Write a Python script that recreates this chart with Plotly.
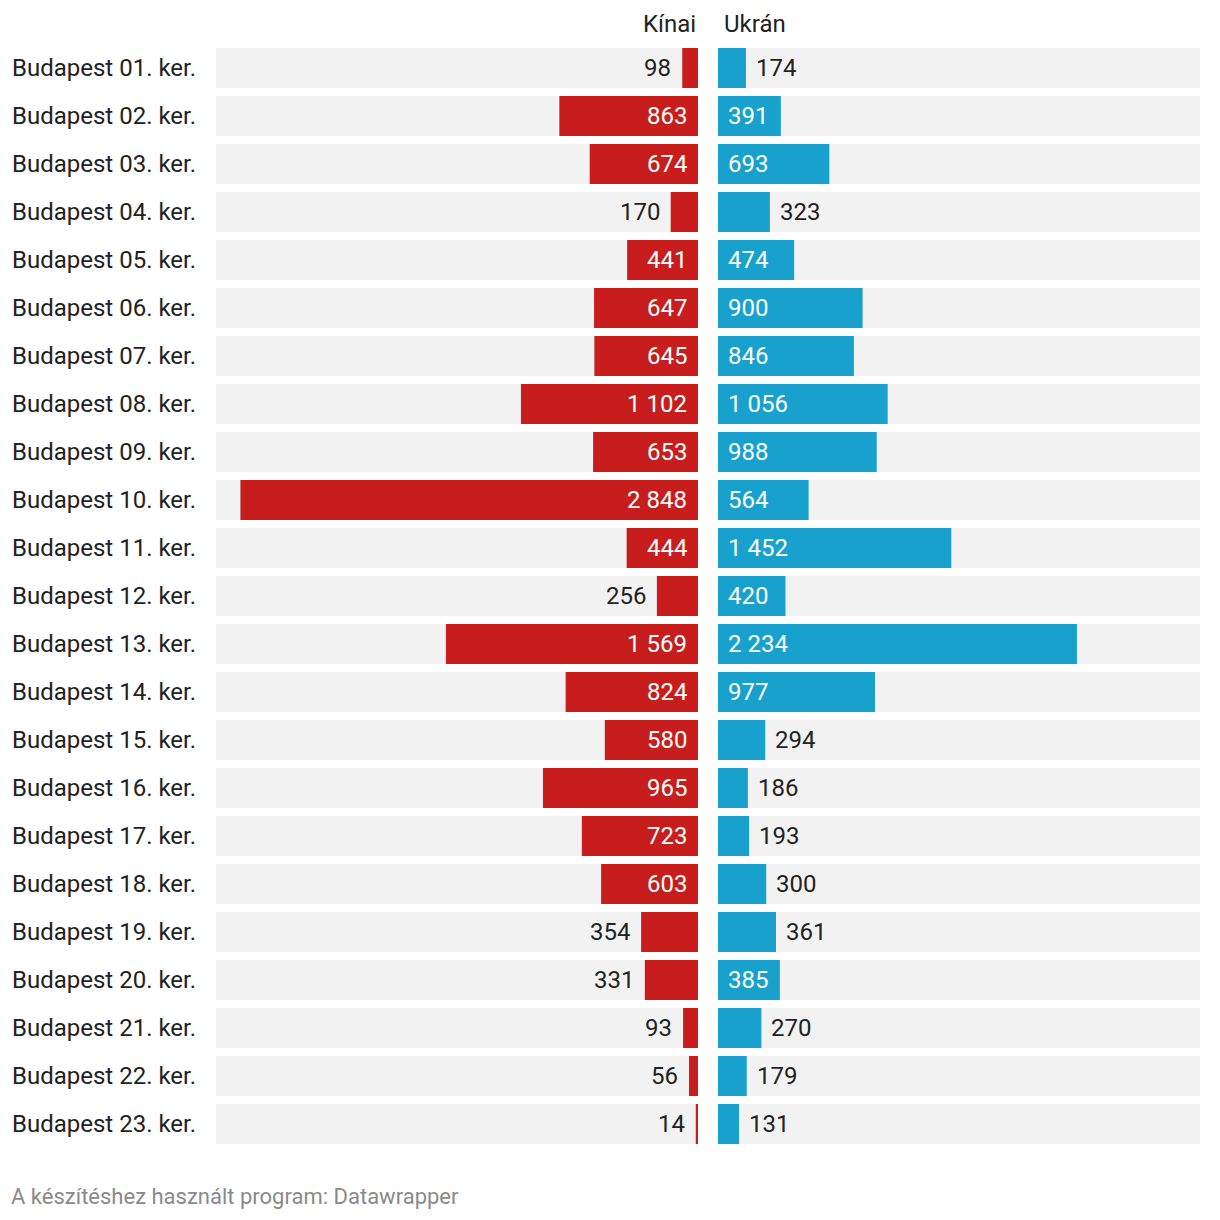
import plotly.graph_objects as go

districts = [f"Budapest {i:02d}. ker." for i in range(1, 24)]
kinai = [98, 863, 674, 170, 441, 647, 645, 1102, 653, 2848, 444, 256, 1569, 824, 580, 965, 723, 603, 354, 331, 93, 56, 14]
ukran = [174, 391, 693, 323, 474, 900, 846, 1056, 988, 564, 1452, 420, 2234, 977, 294, 186, 193, 300, 361, 385, 270, 179, 131]
series_names = ["Kínai", "Ukrán"]
footer = "A készítéshez használt program: Datawrapper"

W = H = 1220
RED = "#c71e1d"
BLUE = "#18a1cd"
BG = "#f2f2f2"
DARK = "#222222"
FONT = "Roboto"
XMAX = 3000
INSIDE_MIN = 370
FS = 24


def fmt(v):
    return f"{v:,}".replace(",", " ")


fig = go.Figure()
for ax, vals, col in [("x", kinai, RED), ("x2", ukran, BLUE)]:
    fig.add_trace(go.Bar(y=districts, x=[XMAX] * len(districts), orientation="h",
                         marker=dict(color=BG, line=dict(width=0)), xaxis=ax, yaxis="y",
                         hoverinfo="skip", showlegend=False))
    fig.add_trace(go.Bar(y=districts, x=vals, orientation="h",
                         marker=dict(color=col, line=dict(width=0)), xaxis=ax, yaxis="y",
                         showlegend=False))

ann = []
for d, v in zip(districts, kinai):
    inside = v >= INSIDE_MIN
    ann.append(dict(x=0 if inside else v, y=d, xref="x", yref="y", text=fmt(v),
                    xanchor="right", xshift=-9, showarrow=False,
                    font=dict(family=FONT, size=FS, color="white" if inside else DARK)))
for d, v in zip(districts, ukran):
    inside = v >= INSIDE_MIN
    ann.append(dict(x=0 if inside else v, y=d, xref="x2", yref="y", text=fmt(v),
                    xanchor="left", xshift=8, showarrow=False,
                    font=dict(family=FONT, size=FS, color="white" if inside else DARK)))
for i, d in enumerate(districts):
    ann.append(dict(x=10 / W, y=d, xref="paper", yref="y", text=d, xanchor="left",
                    showarrow=False, font=dict(family=FONT, size=FS, color=DARK)))

ann.append(dict(x=698 / W, y=1 - 24 / H, xref="paper", yref="paper", text=series_names[0],
                xanchor="right", yanchor="middle", showarrow=False,
                font=dict(family=FONT, size=FS, color=DARK)))
ann.append(dict(x=722 / W, y=1 - 24 / H, xref="paper", yref="paper", text=series_names[1],
                xanchor="left", yanchor="middle", showarrow=False,
                font=dict(family=FONT, size=FS, color=DARK)))
ann.append(dict(x=9 / W, y=1 - 1196 / H, xref="paper", yref="paper", text=footer,
                xanchor="left", yanchor="middle", showarrow=False,
                font=dict(family=FONT, size=22, color="#8a8a8a")))

fig.update_layout(
    width=W, height=H, margin=dict(l=0, r=0, t=0, b=0),
    paper_bgcolor="white", plot_bgcolor="white",
    barmode="overlay", bargap=8 / 48,
    font=dict(family=FONT, color=DARK),
    xaxis=dict(domain=[216 / W, 698 / W], range=[XMAX, 0], visible=False, fixedrange=True),
    xaxis2=dict(domain=[718 / W, 1200 / W], range=[0, XMAX], visible=False, fixedrange=True),
    yaxis=dict(domain=[1 - 1148 / H, 1 - 44 / H], autorange="reversed", visible=False,
               categoryorder="array", categoryarray=districts, fixedrange=True),
    annotations=ann,
)

fig.write_html("out.html", config={"displayModeBar": False},
               post_script="document.body.style.margin='0';")
